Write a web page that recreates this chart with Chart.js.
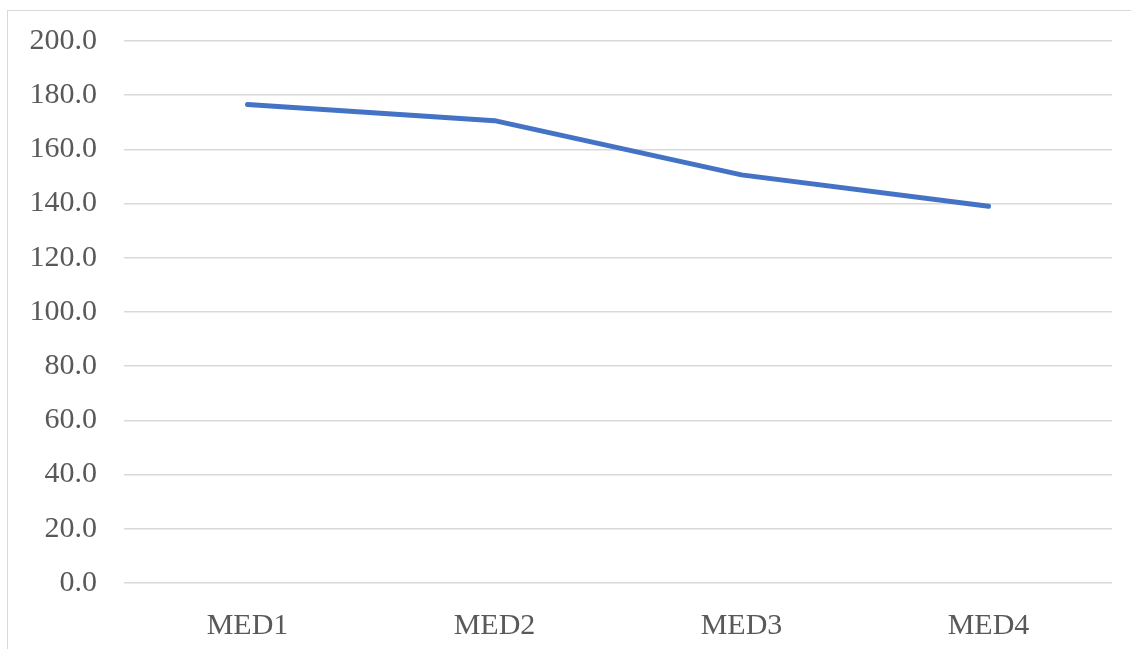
<!DOCTYPE html>
<html>
<head>
<meta charset="utf-8">
<script src="https://cdn.jsdelivr.net/npm/chart.js@4"></script>
<style>
    html, body { margin: 0; padding: 0; background: #fff; }
    #wrap { position: relative; width: 1131px; height: 649px; overflow: hidden; }
    #frame { position: absolute; left: 7px; top: 10px; width: 1140px; height: 660px; border: 1.5px solid #d9d9d9; }
    canvas { position: absolute; left: 0; top: 0; }
</style>
</head>
<body>
<div id="wrap">
    <div id="frame"></div>
    <canvas id="chart" width="1131" height="649"></canvas>
</div>
<script>
// line chart - MED series
const categories = ['MED1', 'MED2', 'MED3', 'MED4'];
const values = [176.6, 170.6, 150.6, 139.0];
const yTicks = [0, 20, 40, 60, 80, 100, 120, 140, 160, 180, 200];

const textColor = '#595959';
const gridColor = '#d9d9d9';
const font = { family: "'Liberation Serif', 'Times New Roman', serif", size: 30 };

const ctx = document.getElementById('chart').getContext('2d');
new Chart(ctx, {
    type: 'line',
    data: {
        labels: categories,
        datasets: [{
            label: 'Series1',
            data: values,
            borderColor: '#4472c4',
            borderWidth: 5,
            borderCapStyle: 'round',
            borderJoinStyle: 'round',
            pointRadius: 0,
            tension: 0,
            fill: false
        }]
    },
    options: {
        responsive: false,
        animation: false,
        layout: { padding: { top: 41, right: 19, bottom: 0, left: 0 } },
        plugins: {
            legend: { display: false },
            tooltip: { enabled: false }
        },
        scales: {
            x: {
                offset: true,
                grid: { display: false },
                border: { display: false },
                ticks: { color: textColor, font: font, padding: 17 },
                afterFit: scale => { scale.height = 66; }
            },
            y: {
                min: 0,
                max: 200,
                afterBuildTicks: scale => { scale.ticks = yTicks.map(v => ({ value: v })); },
                grid: { color: gridColor, lineWidth: 1.5, drawTicks: false },
                border: { display: false },
                ticks: {
                    color: textColor,
                    font: font,
                    padding: 27,
                    callback: v => Number(v).toFixed(1)
                },
                afterFit: scale => {
                    scale.width = 124;
                    scale.paddingTop = 0;
                    scale.paddingBottom = 0;
                }
            }
        }
    }
});
</script>
</body>
</html>
